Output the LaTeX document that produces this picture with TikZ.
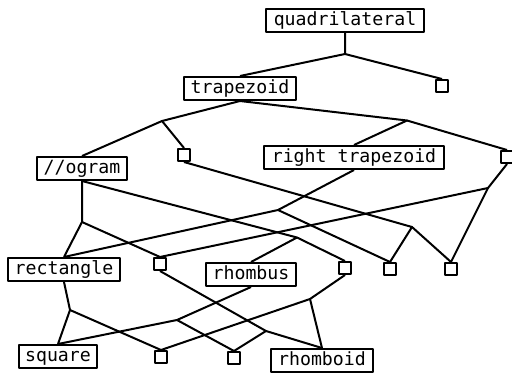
\documentclass[tikz,border=0pt]{standalone}
\usepackage{fontspec}
\newfontfamily\monof{DejaVu Sans Mono}
\begin{document}
\begin{tikzpicture}[x=1pt,y=-1pt, line width=2pt, line join=round,
  lbl/.style={draw, fill=white, inner xsep=0pt, inner ysep=0pt, minimum height=23pt,
    font=\monof\fontsize{18.2}{20}\selectfont, text height=13.5pt, text depth=4pt},
  sq/.style={draw, fill=white, inner sep=0pt, minimum size=12pt}]
\useasboundingbox (0,0) rectangle (512,375);
% labelled nodes
\node[lbl, minimum width=158pt] (Q)  at (345,20.5)  {quadrilateral};
\node[lbl, minimum width=112pt] (T)  at (240,88.5)  {trapezoid};
\node[lbl, minimum width=90pt]  (O)  at (82,168.5)  {//ogram};
\node[lbl, minimum width=180pt] (RT) at (354,157.5) {right trapezoid};
\node[lbl, minimum width=112pt] (R)  at (64,269.5)  {rectangle};
\node[lbl, minimum width=90pt]  (Rh) at (251,274.5) {rhombus};
\node[lbl, minimum width=78pt]  (S)  at (58,356.5)  {square};
\node[lbl, minimum width=102pt] (Rd) at (322,360.5) {rhomboid};
% unlabelled nodes
\node[sq] (s1) at (442,86) {};
\node[sq] (s2) at (184,155) {};
\node[sq] (s3) at (507,157) {};
\node[sq] (s4) at (160,264) {};
\node[sq] (s5) at (345,268) {};
\node[sq] (s6) at (390,269) {};
\node[sq] (s7) at (451,269) {};
\node[sq] (s8) at (161,357) {};
\node[sq] (s9) at (234,358) {};
% junctions
\coordinate (Ja) at (345,54);
\coordinate (Jb) at (162,121);
\coordinate (Jc) at (407,120.5);
\coordinate (Jd) at (82,222);
\coordinate (Je) at (278,210);
\coordinate (Jf) at (412,227);
\coordinate (Jg) at (488,188);
\coordinate (Jh) at (297,237.5);
\coordinate (Ji) at (70,310);
\coordinate (Jj) at (177,320);
\coordinate (Jk) at (310,299);
\coordinate (Jl) at (266,331);
% connectors
\draw (Q.south) -- (Ja) -- (T.north);  \draw (Ja) -- (s1.north);
\draw (T.south) -- (Jb) -- (O.north);  \draw (Jb) -- (s2.north);
\draw (T.south) -- (Jc) -- (RT.north); \draw (Jc) -- (s3.north);
\draw (O.south) -- (Jd) -- (R.north);  \draw (Jd) -- (s4.north);
\draw (O.south) -- (Jh) -- (Rh.north); \draw (Jh) -- (s5.north);
\draw (s2.south) -- (Jf) -- (s6.north); \draw (Jf) -- (s7.north);
\draw (RT.south) -- (Je) -- (R.north); \draw (Je) -- (s6.north);
\draw (s3.south) -- (Jg) -- (s4.north); \draw (Jg) -- (s7.north);
\draw (R.south) -- (Ji) -- (S.north);  \draw (Ji) -- (s8.north);
\draw (Rh.south) -- (Jj) -- (S.north); \draw (Jj) -- (s9.north);
\draw (s4.south) -- (Jl) -- (s9.north); \draw (Jl) -- (Rd.north);
\draw (s5.south) -- (Jk) -- (s8.north); \draw (Jk) -- (Rd.north);
\end{tikzpicture}
\end{document}
